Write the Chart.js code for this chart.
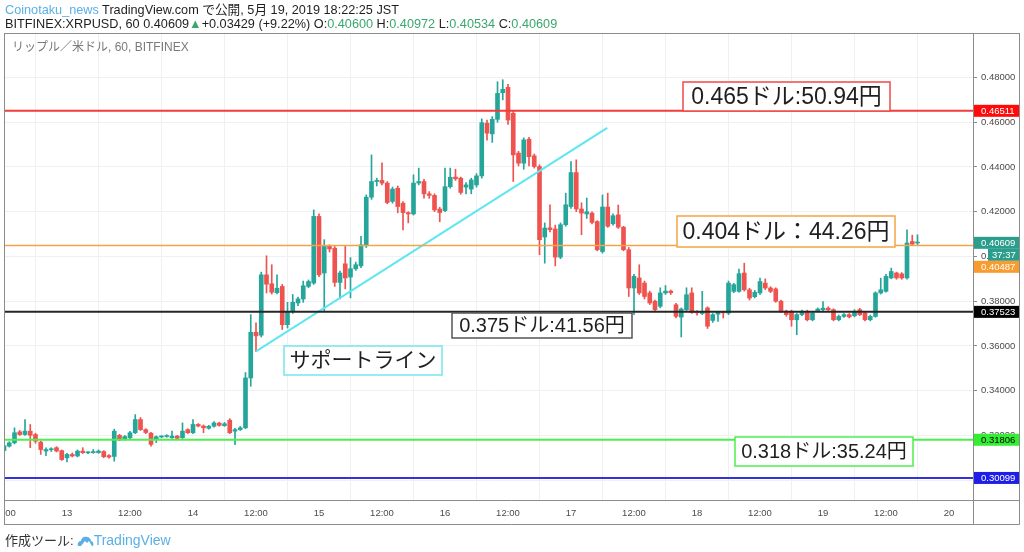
<!DOCTYPE html>
<html lang="ja">
<head>
<meta charset="utf-8">
<title>XRPUSD 60</title>
<script src="https://cdn.jsdelivr.net/npm/chart.js@4.4.1/dist/chart.umd.min.js"></script>
<style>
body{margin:0;background:#fff;font-family:"Liberation Sans","Noto Sans CJK JP",sans-serif;}
#wrap{position:relative;width:1024px;height:552px;overflow:hidden;background:#fff;}
#cv{position:absolute;left:0;top:0;}
.hd{position:absolute;left:5px;white-space:nowrap;color:#1e1e1e;font-size:12.7px;line-height:14px;}
.blue{color:#5ab0e6;}
.up{color:#3aa76d;}
#title{position:absolute;left:12px;top:40px;font-size:12px;line-height:14px;color:#7a7a7a;white-space:nowrap;}
#foot{position:absolute;left:5px;top:532px;font-size:13px;line-height:16px;color:#333;white-space:nowrap;}
#foot svg{vertical-align:-2px;margin-left:3px;}
#foot .tv{color:#5ab0e6;font-size:14px;}
</style>
</head>
<body>
<div id="wrap">
<canvas id="cv" width="1024" height="552"></canvas>
<div class="hd" style="top:3px"><span class="blue">Coinotaku_news</span> TradingView.com で公開, 5月 19, 2019 18:22:25 JST</div>
<div class="hd" style="top:17px">BITFINEX:XRPUSD, 60 0.40609<span class="up">▲</span>+0.03429 (+9.22%) O:<span class="up">0.40600</span> H:<span class="up">0.40972</span> L:<span class="up">0.40534</span> C:<span class="up">0.40609</span></div>
<div id="title">リップル／米ドル, 60, BITFINEX</div>
<div id="foot">作成ツール:<svg width="17" height="12" viewBox="0 0 17 12"><path d="M1 11 C0 8 2 6 4 6 C4 3 7 1 10 2 C12 2 14 4 14 6 C16 6 17 9 16 11 Z" fill="#5ab0e6"/><path d="M4 11 L8 6 L10 8 L12 6 L15 11 Z" fill="#fff"/></svg><span class="tv">TradingView</span></div>
</div>
<script>

// hourly candles, index 0 = 5/12 12:00
var candleOpen=[
.3132,.3152,.3167,.3216,.3204,.3219,.3204,.3170,.3130,.3136,
.3145,.3132,.3100,.3115,.3108,.3130,.3122,.3123,.3123,.3128,
.3110,.3106,.3200,.3181,.3190,.3212,.3271,.3226,.3210,.3182,
.3193,.3195,.3190,.3197,.3190,.3226,.3212,.3249,.3242,.3232,
.3241,.3255,.3244,.3268,.3219,.3226,.3234,.3457,.3661,.3648,
.3918,.3878,.3838,.3866,.3695,.3754,.3792,.3810,.3866,.3881,
.4179,.3926,.4045,.4037,.3884,.3967,.3908,.3945,.3958,.4048,
.4265,.4335,.4340,.4328,.4246,.4305,.4238,.4196,.4190,.4328,
.4335,.4280,.4273,.4212,.4205,.4312,.4355,.4350,.4310,.4301,
.4320,.4360,.4596,.4548,.4613,.4732,.4756,.4640,.4462,.4417,
.4524,.4450,.4402,.4087,.4128,.4123,.3997,.4142,.4223,.4375,
.4212,.4190,.4194,.4156,.4022,.4221,.4146,.4186,.4131,.4030,
.3859,.3904,.3881,.3837,.3800,.3777,.3837,.3845,.3784,.3729,
.3762,.3837,.3752,.3745,.3770,.3714,.3742,.3750,.3747,.3844,
.3844,.3926,.3851,.3820,.3837,.3881,.3859,.3855,.3800,.3755,
.3755,.3717,.3740,.3755,.3717,.3758,.3762,.3769,.3762,.3717,
.3732,.3740,.3735,.3762,.3747,.3717,.3732,.3837,.3844,.3904,
.3926,.3922,.3904,.4067,.4060];
var candleHigh=[
.3160,.3172,.3234,.3222,.3271,.3249,.3210,.3175,.3145,.3145,
.3150,.3135,.3120,.3122,.3135,.3145,.3128,.3137,.3135,.3132,
.3114,.3228,.3205,.3200,.3218,.3293,.3280,.3230,.3214,.3198,
.3199,.3203,.3219,.3200,.3256,.3230,.3271,.3253,.3247,.3245,
.3262,.3259,.3258,.3275,.3232,.3240,.3481,.3740,.3703,.3930,
.4003,.3963,.3918,.3875,.3795,.3830,.3818,.3890,.3895,.4208,
.4190,.4075,.4052,.4045,.3935,.4045,.3995,.3975,.4090,.4275,
.4454,.4350,.4418,.4335,.4310,.4315,.4245,.4200,.4365,.4395,
.4345,.4290,.4280,.4220,.4395,.4395,.4390,.4355,.4330,.4350,
.4370,.4615,.4610,.4625,.4781,.4790,.4770,.4650,.4470,.4530,
.4532,.4458,.4410,.4150,.4231,.4140,.4150,.4283,.4424,.4432,
.4240,.4261,.4200,.4160,.4275,.4283,.4190,.4230,.4135,.4040,
.3920,.3963,.3890,.3845,.3805,.3860,.3870,.3850,.3790,.3770,
.3860,.3860,.3758,.3844,.3775,.3745,.3752,.3755,.3890,.3880,
.3944,.3970,.3858,.3848,.3903,.3900,.3865,.3860,.3805,.3760,
.3760,.3745,.3760,.3760,.3752,.3770,.3798,.3775,.3766,.3738,
.3745,.3745,.3762,.3768,.3752,.3738,.3842,.3903,.3920,.3948,
.3930,.3928,.4119,.4095,.4097];
var candleLow=[
.3125,.3148,.3162,.3200,.3200,.3145,.3165,.3115,.3109,.3128,
.3126,.3088,.3082,.3104,.3104,.3119,.3118,.3120,.3120,.3100,
.3098,.3085,.3176,.3178,.3186,.3208,.3222,.3208,.3152,.3168,
.3190,.3192,.3187,.3183,.3186,.3208,.3208,.3238,.3212,.3228,
.3237,.3241,.3240,.3208,.3159,.3222,.3230,.3420,.3576,.3640,
.3837,.3832,.3832,.3673,.3680,.3745,.3780,.3795,.3860,.3875,
.3910,.3754,.4020,.3866,.3810,.3855,.3815,.3938,.3950,.4040,
.4255,.4315,.4320,.4235,.4238,.4195,.4119,.4150,.4185,.4320,
.4260,.4260,.4200,.4155,.4200,.4305,.4340,.4278,.4280,.4280,
.4310,.4350,.4520,.4510,.4600,.4700,.4590,.4335,.4405,.4390,
.4405,.4395,.4008,.3970,.4110,.3958,.3990,.4135,.4215,.4200,
.4097,.4170,.4145,.4025,.4015,.4130,.4140,.4125,.4025,.3821,
.3740,.3830,.3810,.3785,.3755,.3770,.3830,.3830,.3725,.3640,
.3755,.3745,.3738,.3740,.3678,.3705,.3710,.3725,.3740,.3838,
.3840,.3845,.3805,.3815,.3830,.3852,.3838,.3795,.3750,.3733,
.3688,.3650,.3735,.3712,.3712,.3752,.3758,.3758,.3712,.3712,
.3728,.3725,.3730,.3735,.3712,.3712,.3728,.3832,.3840,.3900,
.3898,.3898,.3898,.4050,.4053];
var candleClose=[
.3154,.3167,.3212,.3204,.3219,.3201,.3174,.3137,.3137,.3138,
.3130,.3092,.3115,.3108,.3130,.3123,.3124,.3125,.3130,.3105,
.3103,.3219,.3180,.3195,.3212,.3271,.3226,.3213,.3160,.3194,
.3195,.3197,.3197,.3187,.3219,.3212,.3249,.3242,.3234,.3241,
.3256,.3245,.3252,.3212,.3226,.3234,.3457,.3661,.3645,.3918,
.3876,.3840,.3858,.3695,.3754,.3795,.3810,.3869,.3888,.4179,
.3918,.4045,.4034,.3884,.3926,.3904,.3945,.3963,.4052,.4265,
.4335,.4340,.4328,.4241,.4301,.4223,.4196,.4190,.4328,.4335,
.4280,.4273,.4208,.4196,.4312,.4354,.4347,.4286,.4320,.4342,
.4360,.4598,.4551,.4613,.4729,.4747,.4610,.4454,.4417,.4521,
.4446,.4402,.4075,.4127,.4120,.3997,.4142,.4231,.4375,.4212,
.4194,.4200,.4152,.4030,.4221,.4135,.4182,.4131,.4030,.3859,
.3911,.3837,.3821,.3792,.3762,.3837,.3845,.3838,.3732,.3765,
.3829,.3750,.3748,.3752,.3688,.3740,.3750,.3748,.3881,.3874,
.3923,.3851,.3814,.3840,.3888,.3859,.3844,.3800,.3755,.3740,
.3717,.3740,.3755,.3717,.3747,.3765,.3769,.3762,.3717,.3732,
.3740,.3730,.3755,.3740,.3717,.3732,.3837,.3851,.3911,.3933,
.3904,.3904,.4060,.4055,.4061];

var xTickHours=[0,12,24,36,48,60,72,84,96,108,120,132,144,156,168,180];
var xTickLabels=['12:00','13','12:00','14','12:00','15','12:00','16','12:00','17','12:00','18','12:00','19','12:00','20'];
var yTickValues=[0.30,0.32,0.34,0.36,0.38,0.40,0.42,0.44,0.46,0.48];

var levelValues=[0.46511,0.40487,0.37523,0.31806,0.30099];
var levelColors=['#f23b3b','#f5a445','#262626','#4def4d','#3434d6'];
var levelWidths=[2,1.5,2,2,2];

var supportHours=[48,114.9];
var supportPrices=[0.3576,0.4575];

var currentPrice=0.40609;
var countdown='37:37';

var xMin=0,xMax=184.57,yMin=0.29113,yMax=0.49989;
var upColor='#26a69a',downColor='#ef5350';
var fontStack='"Liberation Sans","Noto Sans CJK JP",sans-serif';
var axisFont='9.5px '+fontStack;

var axisTags=[
	{v:levelValues[0],text:'0.46511',bg:'#ff0a0a',fg:'#fff'},
	{v:currentPrice,text:'0.40609',bg:'#2a9d8c',fg:'#fff'},
	{v:currentPrice,text:countdown,bg:'#2a9d8c',fg:'#fff',clock:true},
	{v:levelValues[1],text:'0.40487',bg:'#f89c30',fg:'#fff'},
	{v:levelValues[2],text:'0.37523',bg:'#000',fg:'#fff'},
	{v:levelValues[3],text:'0.31806',bg:'#33ee33',fg:'#000'},
	{v:levelValues[4],text:'0.30099',bg:'#1e1ee6',fg:'#fff'}
];

var notes=[
	{text:'0.465ドル:50.94円',x:683,y:82,w:207,h:29,size:23,color:'#f04848'},
	{text:'0.404ドル：44.26円',x:677,y:216,w:218,h:31,size:23,color:'#f5a445'},
	{text:'0.375ドル:41.56円',x:452,y:313,w:180,h:25,size:20,color:'#555'},
	{text:'サポートライン',x:284,y:346,w:158,h:29,size:21,color:'#74e6ee'},
	{text:'0.318ドル:35.24円',x:735,y:437,w:178,h:29,size:20,color:'#4def4d'}
];

var wickData=[],bodyData=[],candleColors=[];
for(var i=0;i<candleOpen.length;i++){
	wickData.push({x:i,y:[candleLow[i],candleHigh[i]]});
	bodyData.push({x:i,y:[candleOpen[i],candleClose[i]]});
	candleColors.push(candleClose[i]>=candleOpen[i]?upColor:downColor);
}

var datasets=[];
for(var k=0;k<levelValues.length;k++){
	datasets.push({type:'line',data:[{x:xMin,y:levelValues[k]},{x:xMax,y:levelValues[k]}],
		borderColor:levelColors[k],borderWidth:levelWidths[k],pointRadius:0});
}
datasets.push({type:'line',data:[{x:supportHours[0],y:supportPrices[0]},{x:supportHours[1],y:supportPrices[1]}],
	borderColor:'#5fe6f0',borderWidth:2,pointRadius:0});
datasets.push({type:'bar',data:bodyData,backgroundColor:candleColors,barThickness:4,minBarLength:1,grouped:false,borderWidth:0});
datasets.push({type:'bar',data:wickData,backgroundColor:candleColors,barThickness:1,grouped:false,borderWidth:0});

var chartDecor={
	id:'chartDecor',
	afterDraw:function(chart){
		var c=chart.ctx,a=chart.chartArea,ya=chart.scales.y,xa=chart.scales.x;
		var outR=a.right+46,outB=a.bottom+24;
		c.save();
		// first x label sits on the left edge and is cut by the frame
		c.save();
		c.beginPath();c.rect(a.left,a.bottom,a.right-a.left,24);c.clip();
		c.font=axisFont;c.fillStyle='#4b4b4b';c.textAlign='center';c.textBaseline='middle';
		c.fillText(xTickLabels[0],xa.getPixelForValue(xTickHours[0]),a.bottom+13);
		c.restore();
		// frame
		c.strokeStyle='#8c8c8c';c.lineWidth=1;
		c.beginPath();
		c.moveTo(a.left+0.5,a.top+0.5);c.lineTo(outR+0.5,a.top+0.5);
		c.moveTo(a.left+0.5,a.top);c.lineTo(a.left+0.5,outB+0.5);
		c.moveTo(a.left,a.bottom+0.5);c.lineTo(outR+0.5,a.bottom+0.5);
		c.moveTo(a.right+0.5,a.top);c.lineTo(a.right+0.5,outB+0.5);
		c.moveTo(outR+0.5,a.top);c.lineTo(outR+0.5,outB+0.5);
		c.moveTo(a.left,outB+0.5);c.lineTo(outR+0.5,outB+0.5);
		c.stroke();

		// price tags on the axis
		var tags=axisTags.map(function(t){return Object.assign({y:ya.getPixelForValue(t.v)},t);});
		tags.sort(function(p,q){return p.y-q.y;});
		var lastBottom=-1e9,th=12;
		c.font=axisFont;c.textBaseline='middle';c.textAlign='left';
		tags.forEach(function(t){
			var top=t.y-th/2;
			if(top<lastBottom)top=lastBottom;
			lastBottom=top+th;
			var x0=t.clock?a.right+15:a.right+1;
			c.fillStyle=t.bg;c.fillRect(x0,top,outR-x0,th);
			c.fillStyle=t.fg;c.fillText(t.text,x0+(t.clock?4:7),top+th/2+0.5);
		});

		// text boxes
		notes.forEach(function(n){
			c.fillStyle='#fff';c.fillRect(n.x,n.y,n.w,n.h);
			c.strokeStyle=n.color;c.lineWidth=1.5;c.strokeRect(n.x,n.y,n.w,n.h);
			c.fillStyle='#1f1f1f';c.font=n.size+'px '+fontStack;c.textAlign='center';
			c.fillText(n.text,n.x+n.w/2,n.y+n.h/2+1);
		});
		c.restore();
	}
};

var chart=new Chart(document.getElementById('cv').getContext('2d'),{
	type:'bar',
	data:{datasets:datasets},
	options:{
		responsive:false,animation:false,events:[],
		layout:{padding:{left:4,right:5,top:33,bottom:28},autoPadding:false},
		plugins:{legend:{display:false},tooltip:{enabled:false}},
		scales:{
			x:{type:'linear',min:xMin,max:xMax,offset:false,
				grid:{color:'#eef0f3',drawTicks:false},border:{display:false},
				ticks:{color:'#4b4b4b',font:{size:9.5,family:fontStack},padding:8,maxRotation:0,autoSkip:false,
					callback:function(v){var j=xTickHours.indexOf(v);return j<=0?'':xTickLabels[j];}},
				afterBuildTicks:function(s){s.ticks=xTickHours.map(function(h){return {value:h};});},
				afterFit:function(s){s.height=24;s.paddingLeft=0;s.paddingRight=0;}
			},
			y:{position:'right',min:yMin,max:yMax,
				grid:{color:'#eef0f3',tickColor:'#8c8c8c',tickLength:4},border:{display:false},
				ticks:{color:'#4b4b4b',font:{size:9.5,family:fontStack},padding:4,
					callback:function(v){return Number(v).toFixed(5);}},
				afterBuildTicks:function(s){s.ticks=yTickValues.map(function(v){return {value:v};});},
				afterFit:function(s){s.width=46;s.paddingTop=0;s.paddingBottom=0;}
			}
		}
	},
	plugins:[chartDecor]
});
</script>
</body>
</html>
